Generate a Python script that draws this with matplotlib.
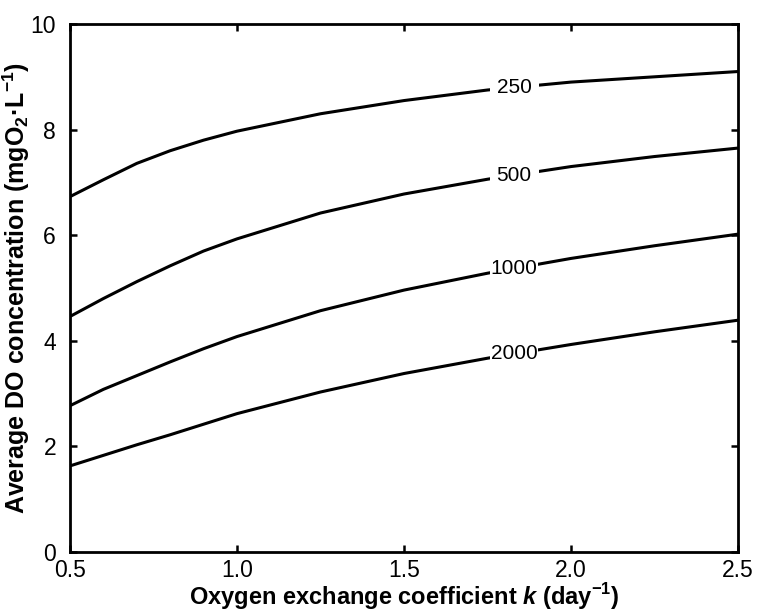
import numpy as np
import matplotlib
matplotlib.use('Agg')
import matplotlib.pyplot as plt

plt.rcParams['font.family'] = 'Liberation Sans'
plt.rcParams['mathtext.fontset'] = 'custom'
plt.rcParams['mathtext.rm'] = 'Liberation Sans'
plt.rcParams['mathtext.bf'] = 'Liberation Sans:bold'
plt.rcParams['mathtext.bfit'] = 'Liberation Sans:bold:italic'

# 氧交换系数 k (day^-1)
k = [0.5, 0.6, 0.7, 0.8, 0.9, 1.0, 1.25, 1.5, 1.75, 2.0, 2.25, 2.5]

# 平均 DO 浓度, 每条曲线一个参数值
do_250 = [6.73, 7.05, 7.36, 7.60, 7.80, 7.97, 8.30, 8.55, 8.75, 8.90, 9.00, 9.10]
do_500 = [4.46, 4.80, 5.12, 5.42, 5.70, 5.93, 6.42, 6.78, 7.06, 7.30, 7.49, 7.65]
do_1000 = [2.77, 3.08, 3.34, 3.60, 3.85, 4.08, 4.57, 4.96, 5.28, 5.56, 5.80, 6.02]
do_2000 = [1.63, 1.83, 2.03, 2.22, 2.42, 2.62, 3.03, 3.38, 3.67, 3.93, 4.17, 4.39]

curves = [("250", do_250), ("500", do_500), ("1000", do_1000), ("2000", do_2000)]
label_k = 1.83

fig = plt.figure(figsize=(7.58, 6.11), dpi=100)
ax = fig.add_axes([0.0923, 0.0966, 0.8813, 0.8641])

for name, vals in curves:
    ax.plot(k, vals, color='black', lw=2.2, solid_capstyle='butt')
    y_lab = np.interp(label_k, k, vals)
    pad = 5 if len(name) == 3 else 0.5
    ax.text(label_k, y_lab, name, ha='center', va='center', fontsize=15,
            bbox=dict(facecolor='white', edgecolor='none', pad=pad))

ax.set_xlim(0.5, 2.5)
ax.set_ylim(0, 10)
ax.set_xticks([0.5, 1.0, 1.5, 2.0, 2.5])
ax.set_xticklabels(['0.5', '1.0', '1.5', '2.0', '2.5'])
ax.set_yticks([0, 2, 4, 6, 8, 10])
ax.tick_params(direction='in', length=5, width=1.8, labelsize=16.5,
               top=True, right=True)
ax.tick_params(axis='x', pad=5)
ax.tick_params(axis='y', pad=10)
for sp in ax.spines.values():
    sp.set_linewidth(2)

ax.set_xlabel(r"Oxygen exchange coefficient $\mathbfit{k}$ (day$^{\mathbf{-1}}$)",
              fontsize=17, fontweight='bold', labelpad=-0.5)
ax.set_ylabel(r"Average DO concentration (mgO$_{\mathbf{2}}$·L$^{\mathbf{-1}}$)",
              fontsize=18, fontweight='bold', labelpad=-1)

fig.savefig('out.png', dpi=100)
